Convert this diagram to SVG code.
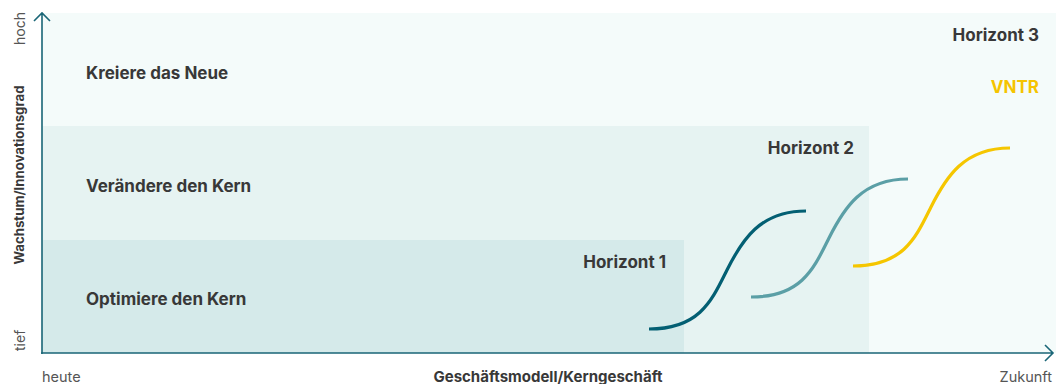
<svg xmlns="http://www.w3.org/2000/svg" width="1056" height="384" viewBox="0 0 1056 384">
<style>
.lbl{font-family:Inter,"Liberation Sans",sans-serif;font-weight:700;font-size:17px;fill:#383838}
.ax{font-family:Inter,"Liberation Sans",sans-serif;font-size:14.5px;fill:#555}
.axb{font-family:Inter,"Liberation Sans",sans-serif;font-size:15px;font-weight:700;fill:#383838}
.axl{font-family:Inter,"Liberation Sans",sans-serif;font-size:14px;fill:#555}
.axlb{font-family:Inter,"Liberation Sans",sans-serif;font-size:13.2px;font-weight:700;fill:#383838}
.axis{fill:none;stroke:#1a6677;stroke-width:1.6}
.curve{fill:none;stroke-width:3.2;stroke-linecap:butt}
</style>
<g id="bands">
<rect x="42" y="13" width="1014" height="340" fill="#f4fbfa"/>
<rect x="42" y="126" width="827" height="227" fill="#e6f3f2"/>
<rect x="42" y="240" width="642" height="113" fill="#d5eaea"/>
</g>
<g id="labels">
<text class="lbl" x="86" y="79">Kreiere das Neue</text>
<text class="lbl" x="86" y="192">Verändere den Kern</text>
<text class="lbl" x="86" y="305">Optimiere den Kern</text>
<text class="lbl" x="666" y="268" text-anchor="end">Horizont 1</text>
<text class="lbl" x="854" y="154" text-anchor="end">Horizont 2</text>
<text class="lbl" x="1039" y="41" text-anchor="end">Horizont 3</text>
<text class="lbl" x="1039" y="93" text-anchor="end" style="fill:#f5c400">VNTR</text>
</g>
<g id="connectors">
<path class="curve" stroke="#035f73" d="M649,329 C700,329 712,300 727,270 S760,211 806,211"/>
<path class="curve" stroke="#5b9fa6" d="M751,297 C802,297 814,268 829,238 S862,179 908,179"/>
<path class="curve" stroke="#f5c600" d="M853,266 C904,266 916,237 931,207 S964,148 1010,148"/>
</g>
<g id="axes">
<path class="axis" d="M42,354 V13 M34,21 L42,13 L50,21"/>
<path class="axis" d="M41,353 H1053 M1045,345 L1053,353 L1045,361"/>
<text class="ax" x="42" y="382">heute</text>
<text class="axb" x="548" y="382" text-anchor="middle">Geschäftsmodell/Kerngeschäft</text>
<text class="ax" x="1052" y="382" text-anchor="end">Zukunft</text>
<text class="axl" transform="translate(25,45) rotate(-90)">hoch</text>
<text class="axlb" transform="translate(24,175) rotate(-90)" text-anchor="middle">Wachstum/Innovationsgrad</text>
<text class="axl" transform="translate(25,351) rotate(-90)">tief</text>
</g>
</svg>
